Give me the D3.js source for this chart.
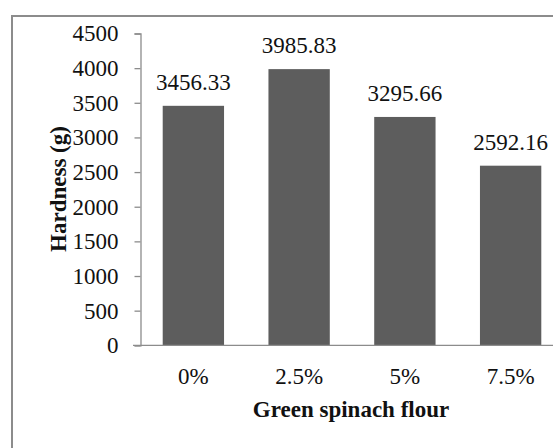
<!DOCTYPE html>
<html><head><meta charset="utf-8">
<script src="https://cdn.jsdelivr.net/npm/d3@7"></script>
<style>body{margin:0;background:#fff}svg{display:block}</style>
</head><body>
<script>
const categories = ["0%", "2.5%", "5%", "7.5%"];
const values = [3456.33, 3985.83, 3295.66, 2592.16];
const valueLabels = ["3456.33", "3985.83", "3295.66", "2592.16"];
const yTicks = [0, 500, 1000, 1500, 2000, 2500, 3000, 3500, 4000, 4500];
const xTitle = "Green spinach flour";
const yTitle = "Hardness (g)";

const W = 553, H = 448;
const svg = d3.select("body").append("svg").attr("width", W).attr("height", H);
const font = "'Liberation Serif','Times New Roman',serif";

svg.append("rect").attr("x", 12).attr("y", 16).attr("width", 560).attr("height", 460)
  .attr("fill", "#fff").attr("stroke", "#8c8c8c").attr("stroke-width", 2);

const x = d3.scaleBand().domain(categories).range([140.5, 563.5]).paddingInner(0.42).paddingOuter(0.21);
const y = d3.scaleLinear().domain([0, 4500]).range([345.3, 33.5]);

svg.selectAll("rect.bar").data(values).join("rect").attr("class", "bar")
  .attr("x", (d, i) => x(categories[i])).attr("width", x.bandwidth())
  .attr("y", d => y(d)).attr("height", d => y(0) - y(d))
  .attr("fill", "#5d5d5d");

const yAxis = svg.append("g").attr("transform", "translate(140.5,0)")
  .call(d3.axisLeft(y).tickValues(yTicks).tickSize(6).tickPadding(16).tickFormat(d3.format("d")));
yAxis.select(".domain").attr("stroke", "#8c8c8c").attr("stroke-width", 1.3);
yAxis.selectAll(".tick line").attr("stroke", "#8c8c8c").attr("stroke-width", 1.3);
yAxis.selectAll(".tick text").attr("font-family", font).attr("font-size", 23).attr("fill", "#111");

const xAxis = svg.append("g").attr("transform", "translate(0,345.3)")
  .call(d3.axisBottom(x).tickSize(0).tickPadding(22));
xAxis.select(".domain").attr("stroke", "#8c8c8c").attr("stroke-width", 1.3).attr("d", "M133,0H563");
xAxis.selectAll(".tick text").attr("font-family", font).attr("font-size", 23).attr("fill", "#111");

svg.selectAll("text.vl").data(values).join("text").attr("class", "vl")
  .attr("x", (d, i) => x(categories[i]) + x.bandwidth() / 2)
  .attr("y", d => y(d) - 16)
  .attr("text-anchor", "middle").attr("font-family", font).attr("font-size", 23).attr("fill", "#111")
  .text((d, i) => valueLabels[i]);

svg.append("text").attr("x", 351).attr("y", 417).attr("text-anchor", "middle")
  .attr("font-family", font).attr("font-size", 23).attr("font-weight", "bold").attr("fill", "#111")
  .text(xTitle);

svg.append("text").attr("transform", "translate(66,189) rotate(-90)").attr("text-anchor", "middle")
  .attr("font-family", font).attr("font-size", 23).attr("font-weight", "bold").attr("fill", "#111")
  .text(yTitle);
</script>
</body></html>
